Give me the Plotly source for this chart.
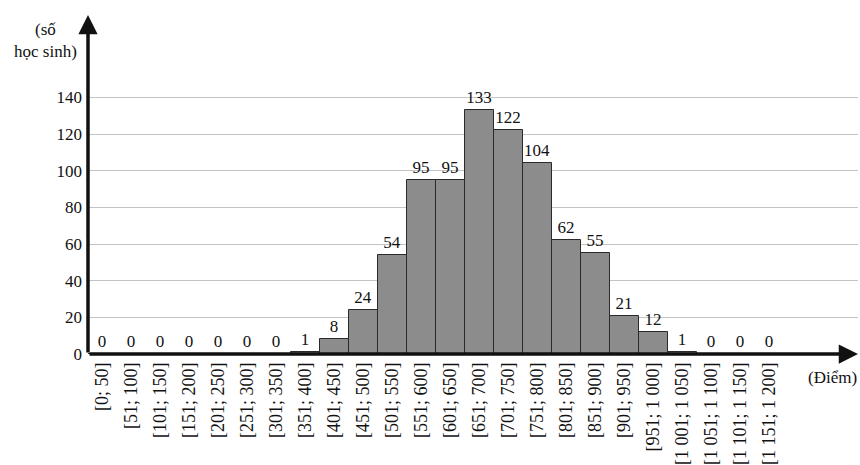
import plotly.graph_objects as go

# Score bins and number of students
bins = ["[0; 50]", "[51; 100]", "[101; 150]", "[151; 200]", "[201; 250]", "[251; 300]",
        "[301; 350]", "[351; 400]", "[401; 450]", "[451; 500]", "[501; 550]", "[551; 600]",
        "[601; 650]", "[651; 700]", "[701; 750]", "[751; 800]", "[801; 850]", "[851; 900]",
        "[901; 950]", "[951; 1 000]", "[1 001; 1 050]", "[1 051; 1 100]", "[1 101; 1 150]",
        "[1 151; 1 200]"]
students = [0, 0, 0, 0, 0, 0, 0, 1, 8, 24, 54, 95, 95, 133, 122, 104, 62, 55, 21, 12, 1, 0, 0, 0]
y_ticks = [0, 20, 40, 60, 80, 100, 120, 140]

SERIF = "Times New Roman"
positions = list(range(len(bins)))
x_max = 26.05
y_max = 185

W, H = 860, 465
L, R, T, B = 88, 2, 15, 111
pw, ph = W - L - R, H - T - B


def px_to_paper(px, py):
    return (px - L) / pw, (H - B - py) / ph


fig = go.Figure()
fig.add_trace(go.Bar(
    x=positions,
    y=students,
    width=1,
    marker=dict(color="#8c8c8c", line=dict(color="#2a2a2a", width=1)),
    text=[str(v) for v in students],
    textposition="outside",
    textfont=dict(family=SERIF, size=17, color="#111"),
    cliponaxis=False,
    showlegend=False,
))

# axis arrows
fig.add_annotation(x=-0.5, y=y_max, ax=-0.5, ay=0, xref="x", yref="y", axref="x", ayref="y",
                   showarrow=True, arrowhead=2, arrowsize=1.1, arrowwidth=3.5, arrowcolor="#111", text="")
fig.add_annotation(x=x_max, y=0, ax=-0.5, ay=0, xref="x", yref="y", axref="x", ayref="y",
                   showarrow=True, arrowhead=2, arrowsize=1.1, arrowwidth=3.5, arrowcolor="#111", text="")

# axis titles
tx, ty = px_to_paper(45, 41)
fig.add_annotation(x=tx, y=ty, xref="paper", yref="paper", xanchor="center", yanchor="middle",
                   text="(số<br>học sinh)", showarrow=False,
                   font=dict(family=SERIF, size=17, color="#111"), align="center")
tx, ty = px_to_paper(832, 377)
fig.add_annotation(x=tx, y=ty, xref="paper", yref="paper", xanchor="center", yanchor="middle",
                   text="(Điểm)", showarrow=False,
                   font=dict(family=SERIF, size=17, color="#111"))

fig.update_layout(
    width=W, height=H,
    margin=dict(l=L, r=R, t=T, b=B, autoexpand=False),
    plot_bgcolor="white",
    paper_bgcolor="white",
    font=dict(family=SERIF),
    bargap=0,
    xaxis=dict(
        range=[-0.5, x_max],
        tickmode="array",
        tickvals=positions,
        ticktext=bins,
        tickangle=-90,
        tickfont=dict(family=SERIF, size=18, color="#111"),
        ticklabelstandoff=4,
        showgrid=False,
        zeroline=False,
        showline=False,
        ticks="",
        automargin=False,
    ),
    yaxis=dict(
        range=[0, y_max],
        tickmode="array",
        tickvals=y_ticks,
        tickfont=dict(family=SERIF, size=17, color="#111"),
        ticklabelstandoff=5,
        showgrid=True,
        gridcolor="#c4c4c4",
        gridwidth=1,
        zeroline=False,
        showline=False,
        ticks="",
        automargin=False,
    ),
)

# the page body has a default margin; drop it so the figure sits at the window corner
fig.write_html("out.html", config={"displayModeBar": False},
               post_script="document.body.style.margin='0';")
